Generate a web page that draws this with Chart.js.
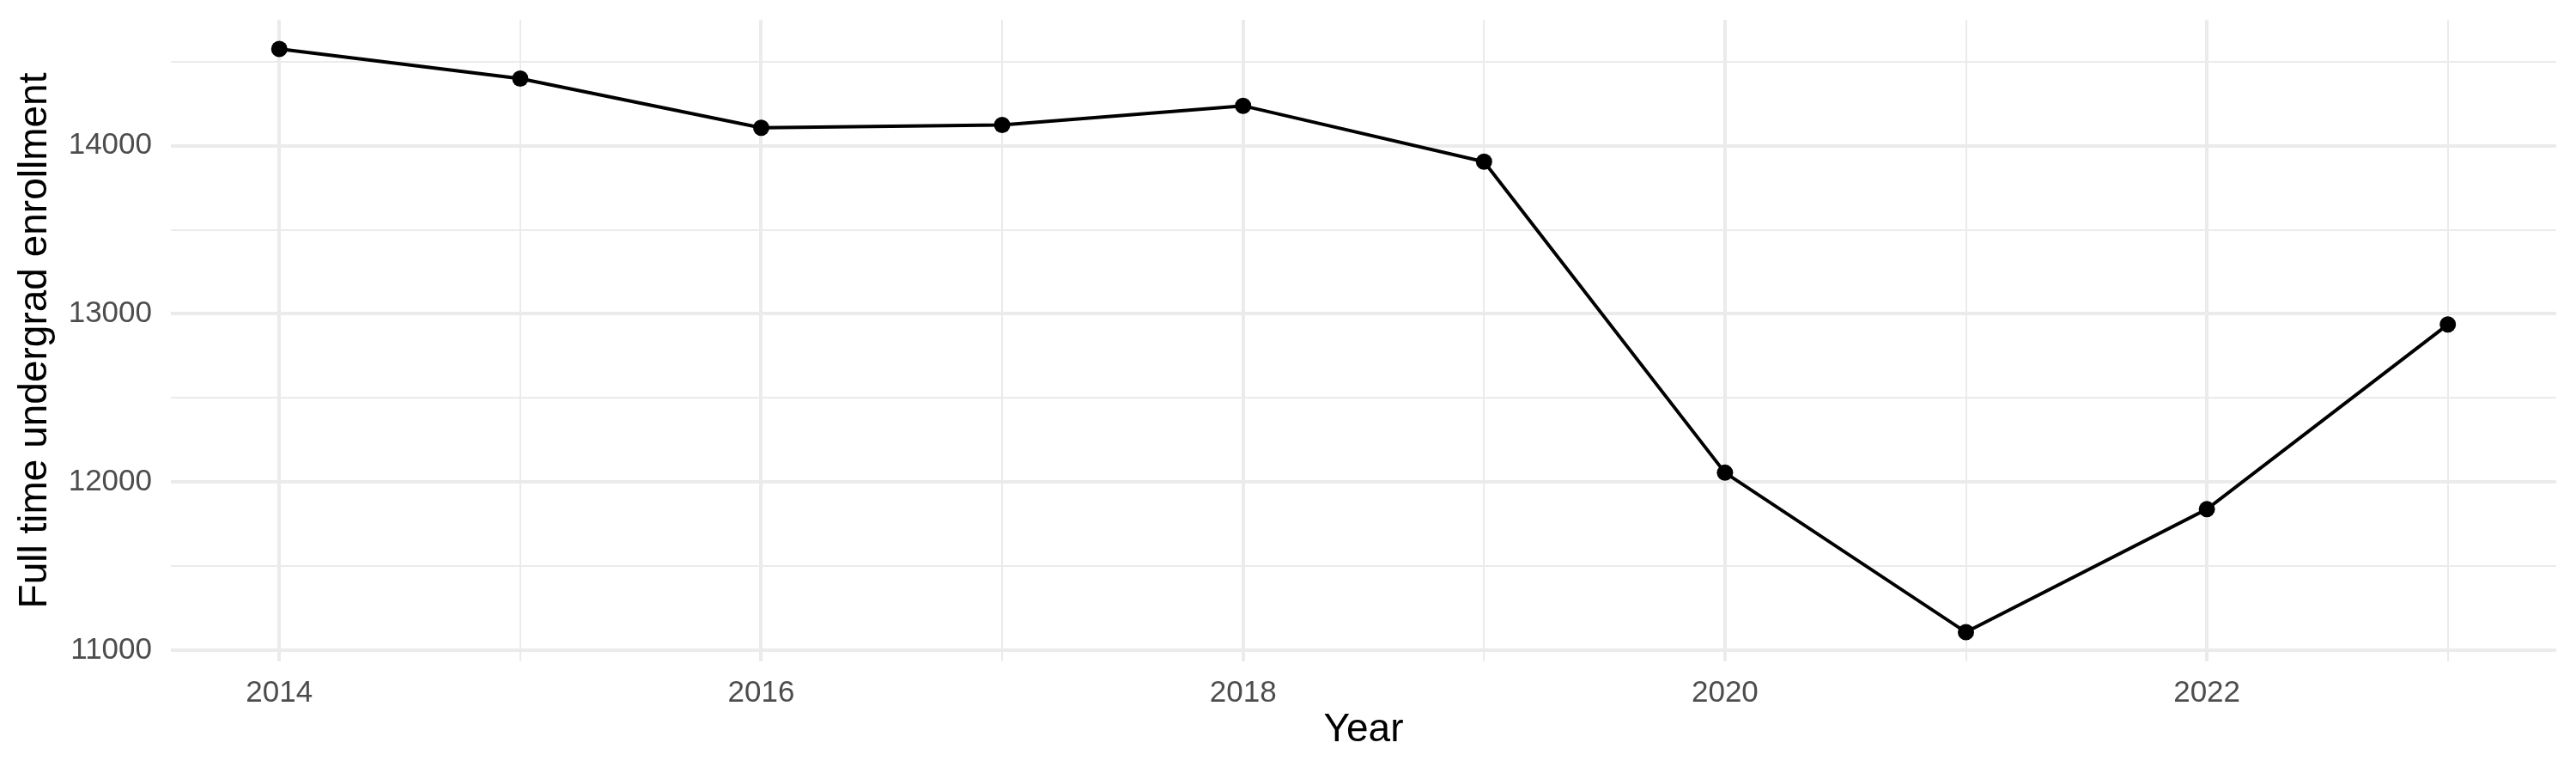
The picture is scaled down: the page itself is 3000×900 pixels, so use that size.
<!DOCTYPE html>
<html>
<head>
<meta charset="utf-8">
<script src="https://cdn.jsdelivr.net/npm/chart.js@4"></script>
<style>
  html, body { margin: 0; padding: 0; background: #fff; }
  #enroll { display: block; }
</style>
</head>
<body>
<canvas id="enroll" width="3000" height="900"></canvas>
<script>
// values
const years = [2014, 2015, 2016, 2017, 2018, 2019, 2020, 2021, 2022, 2023];
const enrollment = [14575, 14399, 14106, 14123, 14237, 13905, 12056, 11108, 11839, 12937];
const xTickLabels = ['2014', '2016', '2018', '2020', '2022'];
const yTickLabels = ['11000', '12000', '13000', '14000'];
const yGridStep = 500; // minor lines halfway between labelled ones

const gridColor = '#EBEBEB';
const tickColor = '#4D4D4D';
const font = '"Liberation Sans", Arial, Helvetica, sans-serif';

// ggplot-style 5% expansion of the data range
function expand(lo, hi) {
  const pad = (hi - lo) * 0.05;
  return [lo - pad, hi + pad];
}
const [xMin, xMax] = expand(Math.min(...years), Math.max(...years));
const [yMin, yMax] = expand(Math.min(...enrollment), Math.max(...enrollment));

const ctx = document.getElementById('enroll').getContext('2d');

new Chart(ctx, {
  type: 'line',
  data: {
    datasets: [{
      data: years.map((y, i) => ({ x: y, y: enrollment[i] })),
      borderColor: '#000',
      borderWidth: 4,
      tension: 0,
      pointRadius: 9.5,
      pointBackgroundColor: '#000',
      pointBorderWidth: 0,
      clip: false,
    }],
  },
  options: {
    responsive: false,
    animation: false,
    devicePixelRatio: 1,
    layout: { padding: { top: 23, right: 23, left: 0, bottom: 0 } },
    plugins: {
      legend: { display: false },
      tooltip: { enabled: false },
    },
    scales: {
      x: {
        type: 'linear',
        min: xMin,
        max: xMax,
        afterBuildTicks: axis => {
          axis.ticks = years.map(v => ({ value: v }));
        },
        afterFit: axis => {
          axis.height = 130;
          axis.paddingLeft = 0;
          axis.paddingRight = 0;
        },
        border: { display: false },
        grid: {
          color: gridColor,
          drawTicks: false,
          lineWidth: c => (xTickLabels.includes(String(c.tick.value)) ? 4 : 2),
        },
        ticks: {
          autoSkip: false,
          maxRotation: 0,
          padding: 16,
          color: tickColor,
          font: { family: font, size: 35 },
          callback: v => (xTickLabels.includes(String(v)) ? String(v) : ''),
        },
        title: {
          display: true,
          text: 'Year',
          color: '#000',
          font: { family: font, size: 46 },
          padding: { top: 0, bottom: 22 },
        },
      },
      y: {
        type: 'linear',
        min: yMin,
        max: yMax,
        afterBuildTicks: axis => {
          const ticks = [];
          for (let v = Math.ceil(yMin / yGridStep) * yGridStep; v <= yMax; v += yGridStep) {
            ticks.push({ value: v });
          }
          axis.ticks = ticks;
        },
        afterFit: axis => {
          axis.width = 199;
          axis.paddingTop = 0;
          axis.paddingBottom = 0;
        },
        border: { display: false },
        grid: {
          color: gridColor,
          drawTicks: false,
          lineWidth: c => (yTickLabels.includes(String(c.tick.value)) ? 4 : 2),
        },
        ticks: {
          autoSkip: false,
          padding: 22,
          color: tickColor,
          font: { family: font, size: 35 },
          callback: v => (yTickLabels.includes(String(v)) ? String(v) : ''),
        },
        title: {
          display: true,
          text: 'Full time undergrad enrollment',
          color: '#000',
          font: { family: font, size: 46 },
          padding: { top: 14, bottom: 0 },
        },
      },
    },
  },
});
</script>
</body>
</html>
